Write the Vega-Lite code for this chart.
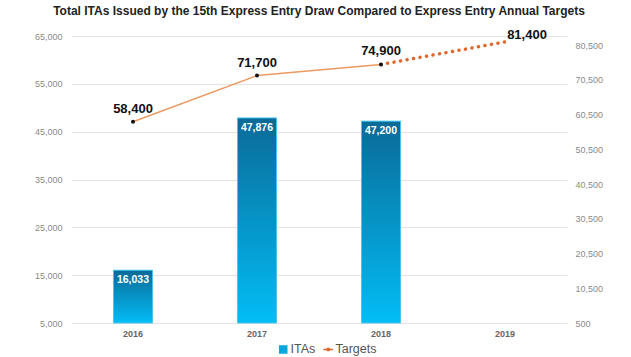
{
  "$schema": "https://vega.github.io/schema/vega-lite/v6.json",
  "width": 496,
  "height": 287,
  "autosize": {"type": "none"},
  "padding": {"left": 71, "top": 36, "right": 64, "bottom": 34},
  "background": "white",
  "config": {
    "view": {"stroke": null},
    "font": "Liberation Sans",
    "axis": {"labelFont": "Liberation Sans"}
  },
  "title": {
    "text": "Total ITAs Issued by the 15th Express Entry Draw Compared to Express Entry Annual Targets",
    "fontSize": 12,
    "fontWeight": "bold",
    "color": "#222222",
    "font": "Liberation Sans",
    "anchor": "middle",
    "offset": 11
  },
  "data": {
    "values": [
      {"year": "2016", "itas": 16033, "targets": 58400},
      {"year": "2017", "itas": 47876, "targets": 71700},
      {"year": "2018", "itas": 47200, "targets": 74900},
      {"year": "2019", "itas": null, "targets": 81400}
    ]
  },
  "encoding": {
    "x": {
      "field": "year",
      "type": "nominal",
      "scale": {"domain": ["2016", "2017", "2018", "2019"], "paddingInner": 0.685, "paddingOuter": 0.3425},
      "axis": {
        "title": null,
        "labelAngle": 0,
        "domain": false,
        "ticks": false,
        "labelFontWeight": "bold",
        "labelColor": "#666666",
        "labelFontSize": 9,
        "labelPadding": 6
      }
    }
  },
  "layer": [
    {
      "transform": [{"filter": "datum.itas != null"}],
      "encoding": {
        "y": {
          "field": "itas",
          "type": "quantitative",
          "scale": {"domain": [5000, 65000], "zero": false, "nice": false},
          "axis": {
            "title": null,
            "values": [5000, 15000, 25000, 35000, 45000, 55000, 65000],
            "format": ",.0f",
            "domain": false,
            "ticks": false,
            "labelColor": "#8a8a8a",
            "labelFontSize": 9,
            "labelPadding": 9,
            "gridColor": "#e4e4e4",
            "gridWidth": 1
          }
        },
        "y2": {"datum": 5000}
      },
      "layer": [
        {
          "mark": {"type": "bar"},
          "encoding": {
            "color": {
              "datum": "ITAs",
              "scale": {"domain": ["ITAs", "Targets"], "range": ["#0aa6de", "#e0662a"]},
              "legend": {
                "orient": "none",
                "legendX": 206,
                "legendY": 307,
                "direction": "horizontal",
                "title": null,
                "labelFontSize": 12.5,
                "labelColor": "#555555",
                "labelFont": "Liberation Sans",
                "symbolSize": 49,
                "columnPadding": 4,
                "labelOffset": 1,
                "encode": {
                  "symbols": {
                    "update": {
                      "shape": {"signal": "datum.value === 'Targets' ? 'M-1.4,0H1.4M-0.35,0a0.35,0.35 0 1,0 0.7,0a0.35,0.35 0 1,0 -0.7,0' : 'square'"},
                      "fill": {"signal": "datum.value === 'Targets' ? '#222222' : '#0aa6de'"},
                      "stroke": {"signal": "datum.value === 'Targets' ? '#e0662a' : '#0aa6de'"},
                      "strokeWidth": {"value": 1.5}
                    }
                  }
                }
              }
            }
          }
        },
        {
          "mark": {
            "type": "bar",
            "stroke": "#4cc4f0",
            "strokeWidth": 1,
            "color": {
              "gradient": "linear",
              "x1": 0, "y1": 0, "x2": 0, "y2": 1,
              "stops": [
                {"offset": 0, "color": "#0a6a98"},
                {"offset": 1, "color": "#02bdf5"}
              ]
            }
          }
        },
        {
          "mark": {"type": "text", "baseline": "top", "dy": 5, "color": "white", "fontWeight": "bold", "fontSize": 10.5},
          "encoding": {
            "text": {"field": "itas", "type": "quantitative", "format": ","},
            "y2": null
          }
        }
      ]
    },
    {
      "encoding": {
        "y": {
          "field": "targets",
          "type": "quantitative",
          "scale": {"domain": [500, 83100], "zero": false, "nice": false},
          "axis": {
            "orient": "right",
            "title": null,
            "values": [500, 10500, 20500, 30500, 40500, 50500, 60500, 70500, 80500],
            "format": ",.0f",
            "grid": false,
            "domain": false,
            "ticks": false,
            "labelColor": "#8a8a8a",
            "labelFontSize": 9,
            "labelPadding": 8
          }
        }
      },
      "layer": [
        {
          "transform": [{"filter": "datum.year != '2019'"}],
          "mark": {"type": "line", "color": "#ec9a62", "strokeWidth": 1.5}
        },
        {
          "transform": [{"filter": "datum.year >= '2018'"}],
          "mark": {"type": "line", "strokeWidth": 3.5, "strokeDash": [0.1, 6.5], "strokeCap": "round"},
          "encoding": {"color": {"datum": "Targets"}}
        },
        {
          "transform": [{"filter": "datum.year != '2019'"}],
          "mark": {"type": "point", "filled": true, "color": "#111111", "size": 16, "opacity": 1}
        },
        {
          "transform": [{"filter": "datum.year != '2019'"}],
          "mark": {"type": "text", "fontWeight": "bold", "fontSize": 13, "dy": -13, "color": "#111111"},
          "encoding": {"text": {"field": "targets", "type": "quantitative", "format": ","}}
        },
        {
          "transform": [{"filter": "datum.year == '2019'"}],
          "mark": {"type": "text", "fontWeight": "bold", "fontSize": 13, "dy": -7, "dx": 22, "color": "#111111"},
          "encoding": {"text": {"field": "targets", "type": "quantitative", "format": ","}}
        }
      ]
    }
  ],
  "resolve": {"scale": {"y": "independent"}}
}
